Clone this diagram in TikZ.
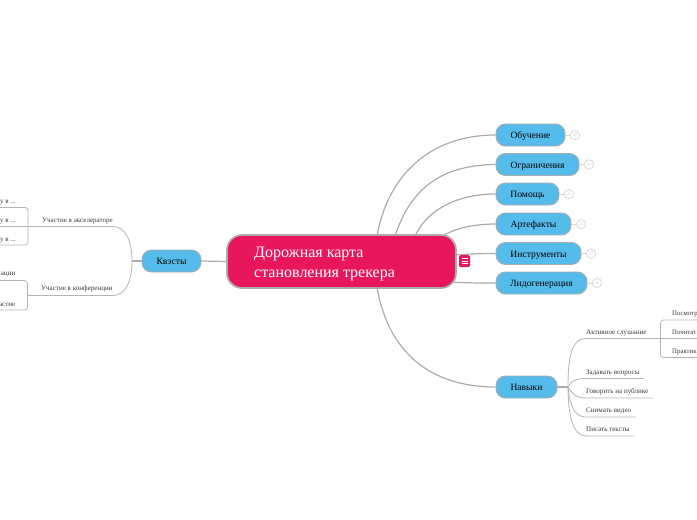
\documentclass[tikz,border=0pt]{standalone}
\usepackage{fontspec}
\setmainfont{Liberation Serif}
\definecolor{rootpink}{HTML}{E8175D}
\definecolor{topicblue}{HTML}{55BBEB}
\definecolor{edgegray}{HTML}{ABABAB}
\definecolor{subgray}{HTML}{B4B4B4}
\definecolor{badgegray}{HTML}{D4D4D4}
\definecolor{labelgray}{HTML}{3A3A3A}
\tikzset{
 rootbox/.style={draw=edgegray,fill=rootpink,line width=1.7pt,rounded corners=15pt,minimum width=229pt,minimum height=53pt,inner sep=0pt},
 topicbox/.style={draw=edgegray,fill=topicblue,line width=.9pt,rounded corners=9.5pt,minimum height=22pt,inner sep=0pt,text height=7pt,text depth=0pt,font=\fontsize{9.6}{11}\selectfont,text=black},
 badge/.style={circle,draw=badgegray,line width=.7pt,minimum size=9.5pt,inner sep=0pt,font=\fontsize{5.5}{5.5}\selectfont,text=badgegray},
 sublabel/.style={inner sep=0pt,font=\fontsize{7.05}{8}\selectfont,text=labelgray,anchor=base west},
 sublabelr/.style={inner sep=0pt,font=\fontsize{7.05}{8}\selectfont,text=labelgray,anchor=base east},
 mainedge/.style={draw=edgegray,line width=1.2pt},
 subedge/.style={draw=subgray,line width=.8pt},
 stemedge/.style={draw=subgray,line width=1.1pt},
 badgeedge/.style={draw=badgegray,line width=.7pt},
}
\begin{document}
\begin{tikzpicture}[x=1pt,y=-1pt]
\useasboundingbox (0,0) rectangle (697,520);
\clip (0,0) rectangle (697,520);
% junction coordinates
\coordinate (r1) at (377,236);
\coordinate (r2) at (395,236);
\coordinate (r3) at (415,236);
\coordinate (r4) at (443,236);
\coordinate (r5) at (455,255);
\coordinate (r6) at (450,282);
\coordinate (r7) at (377,287);
\coordinate (lj) at (132,261);
\coordinate (aL) at (38,226.5);
\coordinate (aR) at (113,226.5);
\coordinate (cL) at (28,295.5);
\coordinate (cR) at (113,295.5);
\coordinate (rj) at (568,387);
\coordinate (s1) at (651,338.5);
\coordinate (s1a) at (660,338.5);
\coordinate (s2) at (644,378.5);
\coordinate (s3) at (653,398);
\coordinate (s4) at (636,417);
\coordinate (s5) at (634,436);
\coordinate (brkA) at (0,226.5);
\coordinate (brkB) at (38,226.5);
% connectors drawn first, nodes on top
\node[topicbox,minimum width=69pt] (t1) at (530.5,135) {Обучение};
\node[topicbox,minimum width=83pt] (t2) at (537.5,164.5) {Ограничения};
\node[topicbox,minimum width=63pt] (t3) at (527.5,194) {Помощь};
\node[topicbox,minimum width=75pt] (t4) at (533.5,224) {Артефакты};
\node[topicbox,minimum width=85pt] (t5) at (538.5,253.5) {Инструменты};
\node[topicbox,minimum width=91pt] (t6) at (541.5,283) {Лидогенерация};
\node[topicbox,minimum width=61pt] (t7) at (526.5,387) {Навыки};
\node[topicbox,minimum width=59pt] (q) at (171.5,261) {Квэсты};
\draw[mainedge] (r1) .. controls (388,175) and (430,135) .. (t1.west);
\draw[mainedge] (r2) .. controls (410,190) and (440,165) .. (t2.west);
\draw[mainedge] (r3) .. controls (428,208) and (460,194) .. (t3.west);
\draw[mainedge] (r4) .. controls (455,228) and (475,224) .. (t4.west);
\draw[mainedge] (r5) .. controls (470,254) and (480,253.5) .. (t5.west);
\draw[mainedge] (r6) .. controls (465,283) and (480,283) .. (t6.west);
\draw[mainedge] (r7) .. controls (388,352) and (430,387) .. (t7.west);
\node[rootbox] (root) at (341.5,261.5) {};
\node[anchor=base west,inner sep=0pt,text=white,font=\fontsize{16}{18}\selectfont] (rl1) at (254,257) {Дорожная карта};
\node[anchor=base west,inner sep=0pt,text=white,font=\fontsize{16}{18}\selectfont] (rl2) at (254,277) {становления трекера};
\draw[mainedge] (root.west) -- (q.east);
% menu icon
\node[fill=rootpink,rounded corners=1.5pt,minimum width=11pt,minimum height=12pt,inner sep=0pt] (menu) at (464.5,261) {};
\draw[white,line width=.7pt] (461.5,258.5) -- (467.5,258.5) (461.5,261) -- (467.5,261) (461.5,263.5) -- (467.5,263.5);
% badges
\node[badge] (b1) at (575,135) {38};
\node[badge] (b2) at (589,164.5) {37};
\node[badge] (b3) at (569,194) {25};
\node[badge] (b4) at (581,224) {22};
\node[badge] (b5) at (591,253.5) {27};
\node[badge] (b6) at (597,283) {6};
\draw[badgeedge] (t1) -- (b1);
\draw[badgeedge] (t2) -- (b2);
\draw[badgeedge] (t3) -- (b3);
\draw[badgeedge] (t4) -- (b4);
\draw[badgeedge] (t5) -- (b5);
\draw[badgeedge] (t6) -- (b6);
% left branch
\draw[mainedge] (q.west) -- (lj);
\node[sublabel] (la) at (42,222) {Участие в акселераторе};
\node[sublabel] (lc) at (41,290) {Участие в конференции};
\draw[subedge] (aL) -- (aR) .. controls (125,226.5) and (132,240) .. (lj);
\draw[subedge] (cL) -- (cR) .. controls (125,295.5) and (132,282) .. (lj);
\draw[stemedge] (brkA) -- (brkB);
\draw[subedge,rounded corners=3pt] (0,207.5) -- (28,207.5) -- (28,245) -- (0,245);
\draw[subedge,rounded corners=3pt] (0,280.5) -- (27.5,280.5) -- (27.5,310) -- (0,310);
\node[sublabelr] (a1) at (16,203) {у в ...};
\node[sublabelr] (a2) at (16,222) {у в ...};
\node[sublabelr] (a3) at (16,241) {у в ...};
\node[sublabelr] (c1) at (15.5,275) {ации};
\node[sublabelr] (c2) at (15.5,306) {астие};
% right branch
\draw[mainedge] (t7.east) -- (rj);
\node[sublabel] (n1) at (586,334) {Активное слушание};
\node[sublabel] (n2) at (586,374) {Задавать вопросы};
\node[sublabel] (n3) at (586,393) {Говорить на публике};
\node[sublabel] (n4) at (586,412) {Снимать видео};
\node[sublabel] (n5) at (586,431) {Писать тексты};
\draw[subedge] (rj) .. controls (568,355) and (572,338.5) .. (586,338.5) -- (s1);
\draw[subedge] (rj) .. controls (571,381) and (576,378.5) .. (586,378.5) -- (s2);
\draw[subedge] (rj) .. controls (571,393) and (576,398) .. (586,398) -- (s3);
\draw[subedge] (rj) .. controls (570,405) and (574,417) .. (586,417) -- (s4);
\draw[subedge] (rj) .. controls (568,415) and (573,436) .. (586,436) -- (s5);
\draw[stemedge] (s1) -- (s1a);
\draw[subedge,rounded corners=3pt] (697,320) -- (660.5,320) -- (660.5,357.5) -- (697,357.5);
\draw[subedge] (s1a) -- (697,338.5);
\node[sublabel,font=\fontsize{6.8}{8}\selectfont] (p1) at (672,315) {Посмотр};
\node[sublabel,font=\fontsize{6.8}{8}\selectfont] (p2) at (672,334) {Почитат};
\node[sublabel,font=\fontsize{6.8}{8}\selectfont] (p3) at (672,353) {Практик};
\end{tikzpicture}
\end{document}
